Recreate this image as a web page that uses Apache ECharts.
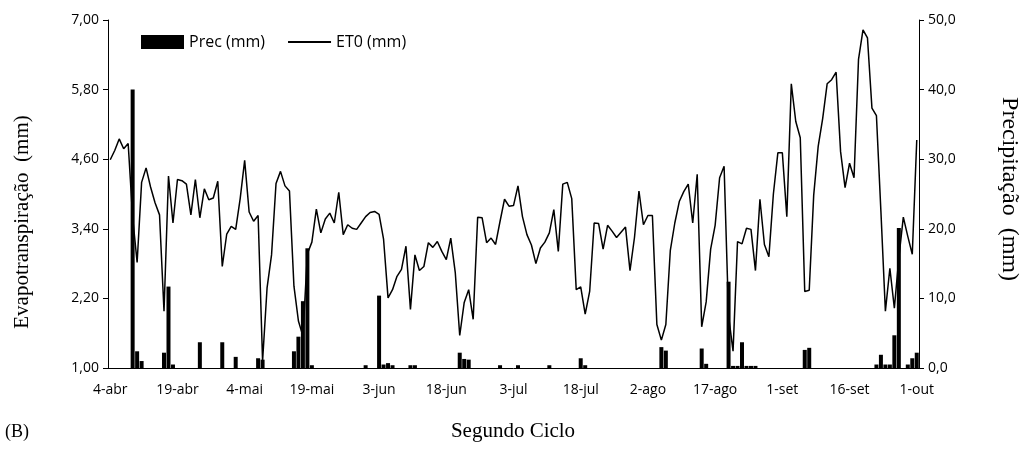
<!DOCTYPE html>
<html><head><meta charset="utf-8">
<script src="https://cdn.jsdelivr.net/npm/echarts@6/dist/echarts.min.js"></script>
<style>html,body{margin:0;padding:0;background:#fff}#c{width:1027px;height:457px}</style>
</head><body><div id="c"></div><script>
// Daily data, 4-abr .. 1-out (181 days)
const startDay = 4;           // 4 de abril
const monthNames = ['abr','mai','jun','jul','ago','set','out'];
const monthDays  = [30, 31, 30, 31, 31, 30, 31];
const nDays = 181;

const et0 = [
 4.59,4.75,4.95,4.78,4.87,3.60,2.82,4.20,4.45,4.12,3.85,3.64,1.98,4.31,3.50,
 4.25,4.23,4.17,3.64,4.25,3.59,4.09,3.90,3.93,4.22,2.75,3.31,3.44,3.39,3.92,
 4.58,3.69,3.53,3.63,1.12,2.38,2.95,4.18,4.39,4.14,4.05,2.41,1.81,1.55,2.97,
 3.17,3.74,3.33,3.57,3.67,3.50,4.03,3.30,3.47,3.41,3.39,3.50,3.61,3.68,3.70,
 3.65,3.22,2.21,2.35,2.58,2.70,3.10,2.01,2.95,2.68,2.75,3.16,3.08,3.18,3.01,
 2.87,3.24,2.65,1.56,2.13,2.35,1.84,3.60,3.59,3.16,3.24,3.13,3.53,3.91,3.79,
 3.80,4.14,3.61,3.30,3.12,2.80,3.07,3.17,3.33,3.73,3.01,4.17,4.20,3.92,2.35,
 2.40,1.93,2.32,3.50,3.49,3.05,3.46,3.36,3.25,3.34,3.43,2.68,3.25,4.05,3.47,
 3.63,3.63,1.75,1.48,1.75,3.03,3.50,3.87,4.04,4.17,3.50,4.34,1.71,2.14,3.05,
 3.46,4.28,4.48,1.90,1.29,3.18,3.14,3.41,3.39,2.68,3.91,3.13,2.92,4.00,4.71,
 4.71,3.61,5.90,5.25,4.97,2.32,2.34,3.98,4.82,5.30,5.90,5.97,6.10,4.73,4.11,
 4.53,4.28,6.32,6.83,6.69,5.48,5.35,3.70,1.98,2.72,2.03,2.90,3.60,3.27,2.96,
 4.93
];

const prec = [
 0,0,0,0,0,40.0,2.4,1.0,0,0,0,0,2.2,11.7,0.5,
 0,0,0,0,0,3.7,0,0,0,0,3.7,0,0,1.6,0,
 0,0,0,1.4,1.2,0,0,0,0,0,0,2.4,4.5,9.6,17.2,
 0.4,0,0,0,0,0,0,0,0,0,0,0,0.4,0,0,
 10.4,0.5,0.7,0.4,0,0,0,0.4,0.4,0,0,0,0,0,0,
 0,0,0,2.2,1.3,1.2,0,0,0,0,0,0,0.4,0,0,
 0,0.4,0,0,0,0,0,0,0.4,0,0,0,0,0,0,
 1.4,0.4,0,0,0,0,0,0,0,0,0,0,0,0,0,
 0,0,0,3.0,2.5,0,0,0,0,0,0,0,2.8,0.6,0,
 0,0,0,12.4,0.3,0.3,3.7,0.3,0.3,0.3,0,0,0,0,0,
 0,0,0,0,0,2.6,2.9,0,0,0,0,0,0,0,0,
 0,0,0,0,0,0,0.5,1.9,0.5,0.5,4.7,20.1,0,0.5,1.4,
 2.2
];

const leftTicks  = [1.00, 2.20, 3.40, 4.60, 5.80, 7.00];
const rightTicks = [0, 10, 20, 30, 40, 50];

// category labels (calendar days)
const categories = [];
(function(){
  let m = 0, d = startDay;
  for (let i = 0; i < nDays; i++) {
    categories.push(d + '-' + monthNames[m]);
    d++; if (d > monthDays[m]) { d = 1; m++; }
  }
})();

const tickFont = 'Open Sans';
const serif = 'Liberation Serif';
const chart = echarts.init(document.getElementById('c'), null, {renderer:'canvas'});
chart.setOption({
  animation: false,
  backgroundColor: '#fff',
  grid: { left: 108, right: 108, top: 20, bottom: 89 },
  legend: {
    left: 141, top: 34, padding: 0, itemWidth: 43, itemHeight: 14, itemGap: 22,
    textStyle: { fontFamily: tickFont, fontSize: 16, color: '#000' },
    data: [
      {name:'Prec (mm)', icon:'rect'},
      {name:'ET0 (mm)', itemStyle: { color: 'rgba(0,0,0,0)', borderWidth: 0, opacity: 0 }}
    ]
  },
  xAxis: {
    type: 'category', data: categories, boundaryGap: true,
    axisLine: { lineStyle: { color: '#000', width: 1 } },
    axisTick: { alignWithLabel: true, interval: 14, length: 5, lineStyle: {color:'#000'} },
    axisLabel: { interval: 14, color: '#000', fontFamily: tickFont, fontSize: 14, margin: 15 },
    splitLine: { show: false }
  },
  yAxis: [
    {
      type: 'value', min: 1, max: 7, position: 'left',
      axisLine: { show: true, lineStyle: { color: '#000', width: 1 } },
      axisTick: { show: true, length: 5, lineStyle:{color:'#000'}, customValues: leftTicks },
      axisLabel: { color: '#000', fontFamily: tickFont, fontSize: 14, margin: 9,
        customValues: leftTicks,
        formatter: v => v.toFixed(2).replace('.', ',') },
      splitLine: { show: false }
    },
    {
      type: 'value', min: 0, max: 50, interval: 10, position: 'right',
      axisLine: { show: true, lineStyle: { color: '#000', width: 1 } },
      axisTick: { show: true, length: 5, lineStyle:{color:'#000'} },
      axisLabel: { color: '#000', fontFamily: tickFont, fontSize: 14, margin: 9,
        formatter: v => v.toFixed(1).replace('.', ',') },
      splitLine: { show: false }
    }
  ],
  graphic: [
    { type: 'text', x: 22, y: 222, rotation: Math.PI / 2,
      style: { text: 'Evapotranspiração  (mm)', x: 0, y: 0, align: 'center', verticalAlign: 'middle',
               fontFamily: serif, fontSize: 21, fill: '#000' } },
    { type: 'text', x: 1009, y: 189, rotation: -Math.PI / 2,
      style: { text: 'Precipitação  (mm)', x: 0, y: 0, align: 'center', verticalAlign: 'middle',
               fontFamily: serif, fontSize: 24, fill: '#000' } },
    { type: 'text', x: 513, y: 431,
      style: { text: 'Segundo Ciclo', x: 0, y: 0, align: 'center', verticalAlign: 'middle',
               fontFamily: serif, fontSize: 21, fill: '#000' } },
    { type: 'text', x: 5, y: 432,
      style: { text: '(B)', x: 0, y: 0, align: 'left', verticalAlign: 'middle',
               fontFamily: serif, fontSize: 18, fill: '#000' } }
  ],
  series: [
    {
      name: 'Prec (mm)', type: 'bar', yAxisIndex: 1, data: prec,
      barWidth: 4, itemStyle: { color: '#000' }, z: 3
    },
    {
      name: 'ET0 (mm)', type: 'line', yAxisIndex: 0, data: et0,
      symbol: 'none', lineStyle: { color: '#000', width: 1.5 }, itemStyle:{color:'#000'}, z: 2
    }
  ]
});
</script></body></html>
